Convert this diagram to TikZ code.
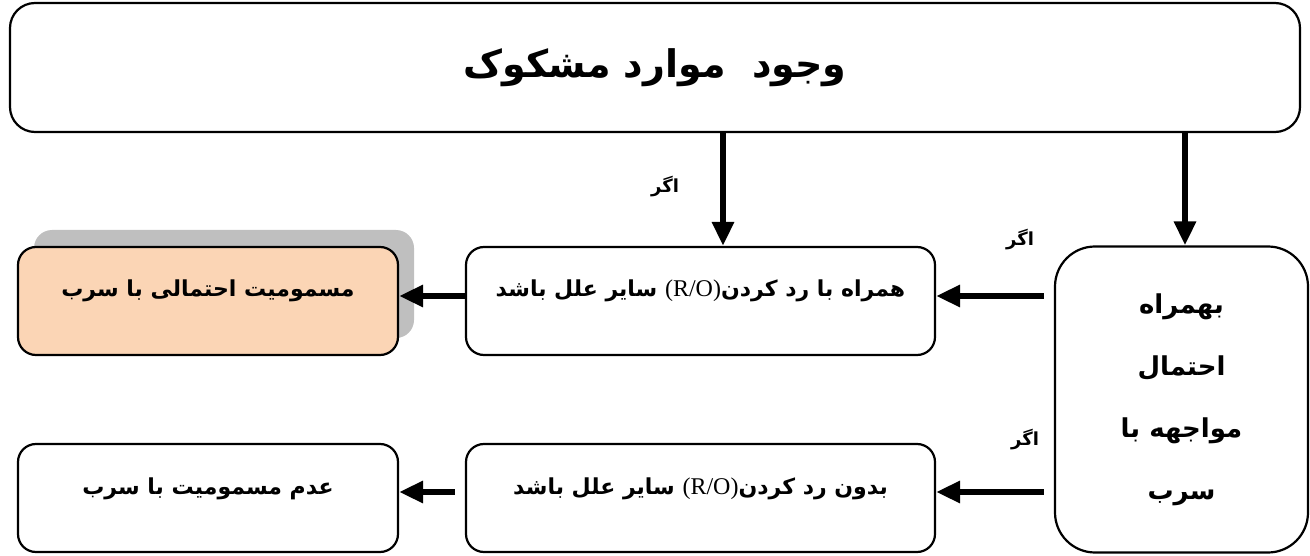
\documentclass[tikz,border=0pt]{standalone}
\usepackage{fontspec}
\TeXXeTstate=1
\newfontfamily\arabicfont[Script=Arabic]{DejaVu Sans}
\newfontfamily\latinserif{Liberation Serif}
\usetikzlibrary{arrows.meta,shadows}
\tikzset{
  box/.style={draw=black, line width=2.2pt, fill=white, rectangle, rounded corners=18pt, inner sep=0pt, font=\arabicfont\bfseries},
  rowbox/.style={box, minimum width=469pt, text height=50pt, text depth=58pt, font=\arabicfont\bfseries\fontsize{22}{26}\selectfont},
  arr/.style={line width=6pt, -{Triangle[width=21pt,length=24pt]}},
  iflabel/.style={font=\arabicfont\bfseries\fontsize{18}{20}\selectfont, inner sep=0pt}
}
\newcommand{\ro}{\beginL{\latinserif\mdseries\fontsize{24}{26}\selectfont(R/O)}\endL{}}
\begin{document}
\begin{tikzpicture}[x=1pt,y=-1pt]
\useasboundingbox (0,0) rectangle (1310,556);
% top box
\node[box, rounded corners=25pt, minimum width=1290pt, minimum height=129pt,
  font=\arabicfont\bfseries\fontsize{38}{44}\selectfont] (top) at (655,67.5) {\beginR وجود\ \ موارد مشکوک\endR};
% right box
\node[box, rounded corners=40pt, minimum width=253pt, minimum height=306pt, align=center,
  font=\arabicfont\bfseries\fontsize{26}{62}\selectfont] (rbox) at (1181.5,399.5)
  {\beginR بهمراه\endR\\ \beginR احتمال\endR\\ \beginR مواجهه با\endR\\ \beginR سرب\endR};
% row boxes
\node[rowbox] (mid1) at (700.5,301) {\beginR همراه با رد کردن\ro{} سایر علل باشد\endR};
\node[rowbox] (mid2) at (700.5,498) {\beginR بدون رد کردن\ro{} سایر علل باشد\endR};
\node[rowbox, minimum width=380pt, fill={rgb,255:red,251;green,213;blue,181},
  drop shadow={shadow xshift=16pt, shadow yshift=17pt, fill=black!25, opacity=1}] (res1) at (208,301)
  {\beginR مسمومیت احتمالی با سرب\endR};
\node[rowbox, minimum width=380pt] (res2) at (208,498) {\beginR عدم مسمومیت با سرب\endR};
% connectors
\coordinate (a1) at ([xshift=22.5pt]mid1.north);
\draw[arr] (top.south -| a1) -- (a1);
\coordinate (a2) at ([xshift=3.5pt]rbox.north);
\draw[arr] (top.south -| a2) -- (a2);
\coordinate (s1) at ([xshift=-10pt,yshift=5pt]rbox.west |- mid1.east);
\draw[arr] (s1) -- ([yshift=5pt]mid1.east);
\coordinate (s2) at ([xshift=-10pt,yshift=6pt]rbox.west |- mid2.east);
\draw[arr] (s2) -- ([yshift=6pt]mid2.east);
\draw[arr] ([yshift=5pt]mid1.west) -- ([yshift=5pt]res1.east);
\coordinate (s3) at ([xshift=-10pt,yshift=6pt]mid2.west);
\draw[arr] (s3) -- ([yshift=6pt]res2.east);
% labels
\node[iflabel] (if1) at (665,187) {\beginR اگر\endR};
\node[iflabel] (if2) at (1020,240) {\beginR اگر\endR};
\node[iflabel] (if3) at (1025,440) {\beginR اگر\endR};
\end{tikzpicture}
\end{document}
